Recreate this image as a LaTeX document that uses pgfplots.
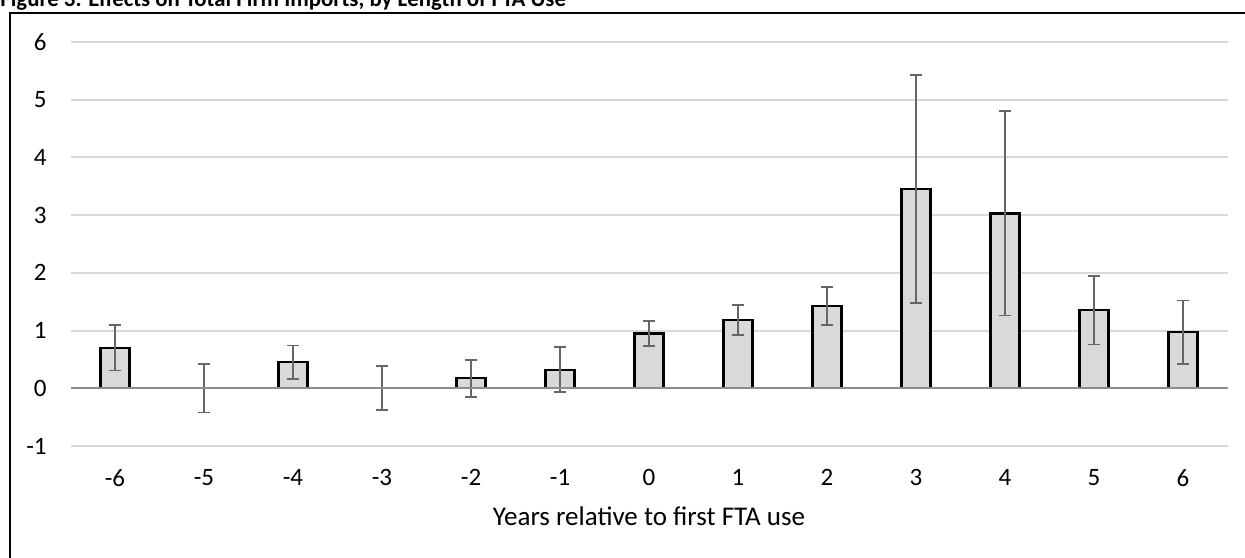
\documentclass[border=0pt]{standalone}
\usepackage{fontspec}
\setmainfont{Carlito}
\usepackage{pgfplots}
\usepackage{pgfplotstable}
\pgfplotsset{compat=1.18}
\definecolor{gridc}{HTML}{D9D9D9}
\definecolor{barfill}{HTML}{D9D9D9}
\definecolor{errc}{HTML}{666666}
\definecolor{zeroc}{HTML}{8C8C8C}
\pgfplotstableread{
x    y     up    lo
-6   0.70  1.10  0.31
-5   0.005 0.42  -0.42
-4   0.46  0.74  0.16
-3   0.005 0.38  -0.37
-2   0.18  0.49  -0.15
-1   0.32  0.71  -0.06
0    0.95  1.17  0.73
1    1.18  1.45  0.92
2    1.43  1.76  1.10
3    3.45  5.43  1.48
4    3.03  4.80  1.26
5    1.36  1.95  0.76
6    0.98  1.52  0.42
}\datatable
\pgfplotstablecreatecol[expr={\thisrow{up}-\thisrow{y}}]{ep}{\datatable}
\pgfplotstablecreatecol[expr={\thisrow{y}-\thisrow{lo}}]{em}{\datatable}
\begin{document}
\begin{tikzpicture}
\useasboundingbox (0pt,0pt) rectangle (622.5pt,-278.5pt);
\node[anchor=base west, inner sep=0, font=\fontsize{11.4}{13}\selectfont\bfseries] at (0pt,-3pt) {Figure 3. Effects on Total Firm Imports, by Length of FTA Use};
\draw[line width=1pt] (5pt,-350pt) -- (5pt,-6.5pt) -- (700pt,-6.5pt);
\begin{axis}[
  at={(35.25pt,-223pt)}, anchor=south west, scale only axis,
  width=578.5pt, height=202pt,
  xmin=-6.5, xmax=6.5, ymin=-1, ymax=6,
  axis line style={draw=none},
  tick style={draw=none},
  xtick={-6,...,6}, ytick={-1,...,6},
  ymajorgrids, grid style={gridc, line width=1pt},
  /pgf/number format/assume math mode=true,
  ticklabel style={font=\fontsize{12.5}{14}\selectfont, inner sep=0pt},
  yticklabel style={anchor=east, xshift=-11.75pt},
  xticklabel style={anchor=north, yshift=-11.5pt},
  clip=false,
]
\addplot[ybar, bar width=14.5pt, fill=barfill, draw=black, line width=1.2pt,
  error bars/.cd, y dir=both, y explicit,
  error bar style={errc, line width=0.9pt},
  error mark options={errc, line width=0.9pt, mark size=3pt, rotate=90}]
  table[x=x, y=y, y error plus=ep, y error minus=em]{\datatable};
\draw[zeroc, line width=0.9pt] (axis cs:-6.5,0) -- (axis cs:6.5,0);
\end{axis}
\node[anchor=base, inner sep=0, font=\fontsize{13.5}{15}\selectfont] at (324.5pt,-262.5pt) {Years relative to first FTA use};
\end{tikzpicture}
\end{document}
